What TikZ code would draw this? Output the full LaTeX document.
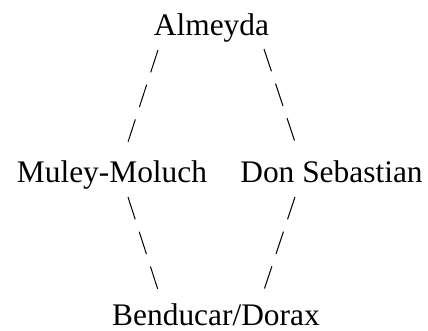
\documentclass[tikz,border=0pt]{standalone}
\usepackage{fontspec}
\setmainfont{Liberation Serif}
\usepackage{tikz}
\usetikzlibrary{calc, positioning}

\begin{document}
\begin{tikzpicture}
[x=1pt, y=-1pt, link/.style={draw=black, line width=1pt, dash pattern=on 23.5pt off 13pt}]
% Define styles for the names
\tikzstyle{person} = [inner sep=0pt, anchor=base, font=\fontsize{31.4}{36}\selectfont]

\useasboundingbox (0,0) rectangle (428,330);

% Nodes placement
\node [person] (almeyda) at (211.5,35) {Almeyda};
\node [person] (muley) at (112,182) {Muley-Moluch};
\node [person] (sebastian) at (331.5,182) {Don Sebastian};
\node [person] (benducar) at (216,325) {Benducar/Dorax};

% Draw edges
\draw[link] ($(almeyda.base)+(-53.5,15)$) -- ($(muley.base)+(15,-37)$);
\draw[link] ($(almeyda.base)+(52.5,14)$) -- ($(sebastian.base)+(-35.5,-37)$);
\draw[link] ($(muley.base)+(16,15)$) -- ($(benducar.base)+(-57,-32)$);
\draw[link] ($(sebastian.base)+(-36.5,15)$) -- ($(benducar.base)+(47,-32)$);
\end{tikzpicture}
\end{document}
